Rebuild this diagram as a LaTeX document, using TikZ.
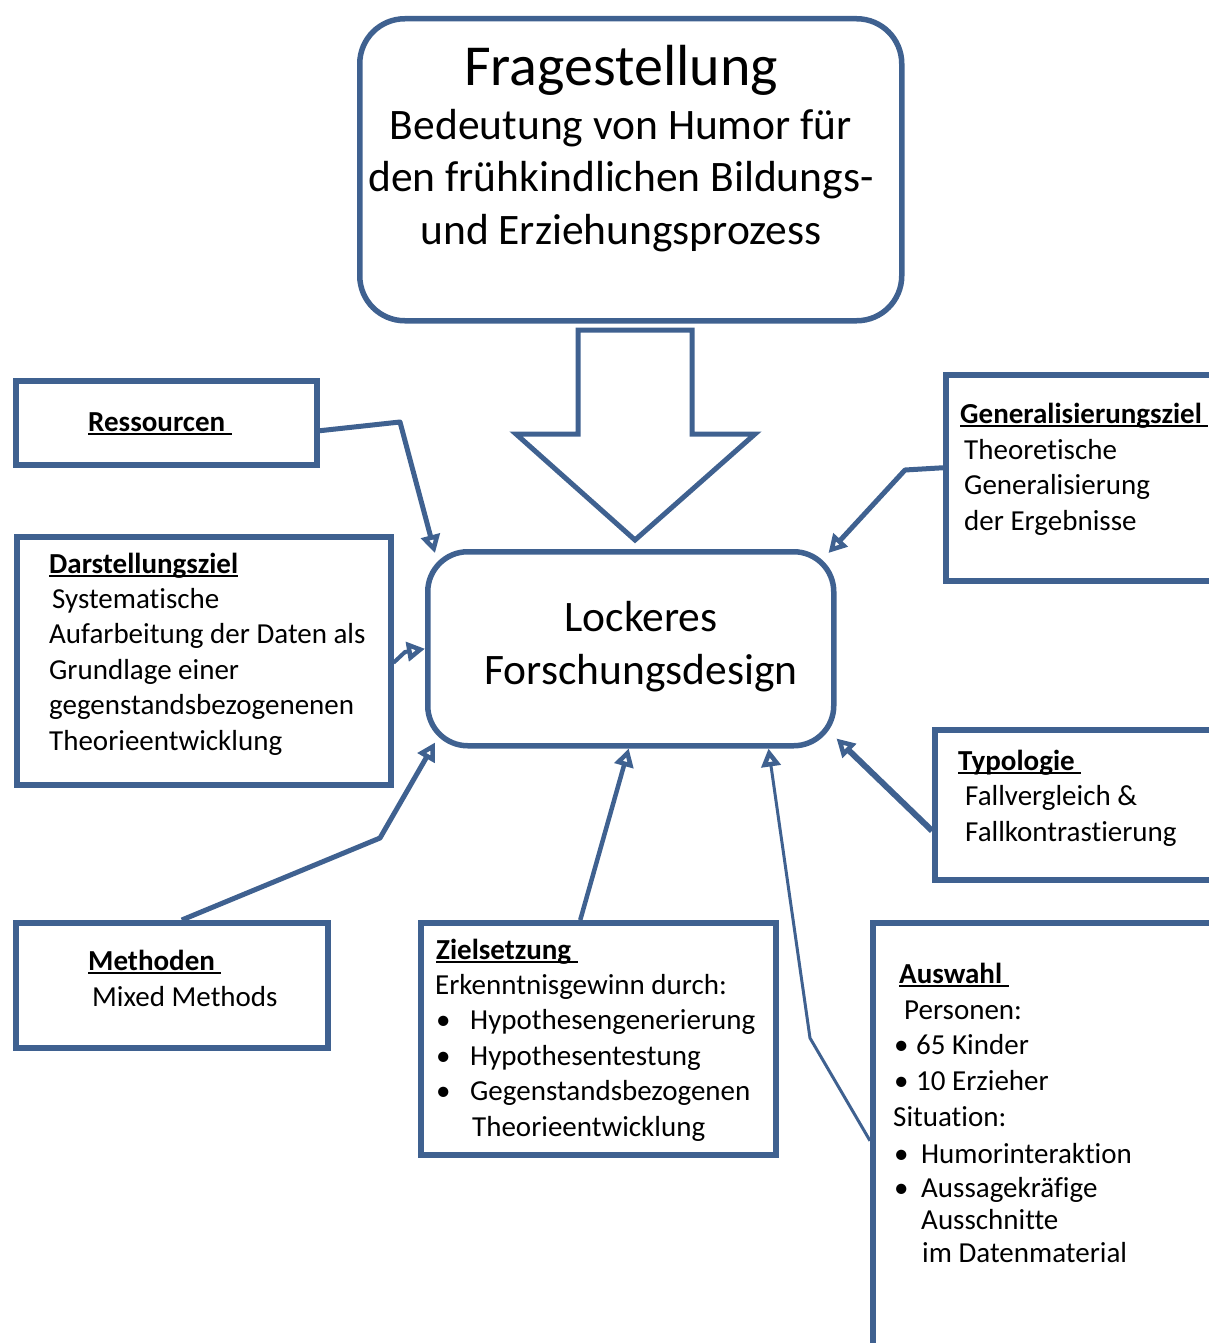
\documentclass[tikz,border=0pt]{standalone}
\usepackage{fontspec}
\setmainfont[RawFeature={-liga;-clig;-calt;-dlig}]{Carlito}
\usetikzlibrary{arrows.meta}
\definecolor{boxblue}{HTML}{3F6190}
\newcommand{\headline}[1]{\setbox0\hbox{\textbf{#1}}\rlap{\rule[-3.5pt]{\wd0}{2pt}}\box0}
\newcommand{\blt}[1]{\makebox[#1][l]{\hspace{1pt}\textbullet}}

\begin{document}
\begin{tikzpicture}[x=1pt, y=-1pt]
\tikzset{ >={Triangle[fill=white, length=18pt, width=19pt, line width=4.5pt]},
  box/.style={draw=boxblue, line width=5.5pt, anchor=north west, inner sep=0pt},
  rbox/.style={box, rounded corners=45pt},
  conn/.style={->, draw=boxblue, line width=5pt, line join=round},
  txt/.style={anchor=base west, inner sep=0pt, align=left, font=\fontsize{29}{35.4}\selectfont},
  big/.style={anchor=base, inner sep=0pt, align=center, font=\fontsize{43.5}{52.5}\selectfont},
}
\useasboundingbox (0,0) rectangle (1209,1343);
%\draw [lightgray, dashed](0,0) grid[step=100pt] (1209,1343);

% boxes
\node [rbox, minimum width=542pt, minimum height=302pt] (frage) at (357,16) {};
\node [rbox, rounded corners=40pt, minimum width=406pt, minimum height=194pt] (design) at (425,549) {};
\node [box, minimum width=301pt, minimum height=84pt]  (ress)  at (13,378)  {};
\node [box, minimum width=374pt, minimum height=248pt] (darst) at (14,534)  {};
\node [box, minimum width=300pt, minimum height=206pt] (gener) at (943,372) {};
\node [box, minimum width=310pt, minimum height=150pt] (typo)  at (932,727) {};
\node [box, minimum width=312pt, minimum height=125pt] (meth)  at (13,920)  {};
\node [box, minimum width=355pt, minimum height=232pt] (ziel)  at (418,920) {};
\node [box, minimum width=372pt, minimum height=460pt] (ausw)  at (870,920) {};

% big arrow
\draw [boxblue, line width=5pt] (578,330) -- (692,330) -- (692,434) -- (755,434)
  -- (635,540) -- (516,434) -- (578,434) -- cycle;

% texts (multi-line nodes sit on their last baseline)
\node [big, font=\fontsize{58}{70}\selectfont] (frageT) at (621,86) {Fragestellung};
\node [big] (frageS) at (621,244) {Bedeutung von Humor für\\den frühkindlichen Bildungs-\\und Erziehungsprozess};
\node [big] (designT) at (641,684) {Lockeres\\ Forschungsdesign};

\node [txt] (ressT)  at (88,431)  {\headline{Ressourcen\ }};
\node [txt] (darstT) at (49,750)  {\headline{Darstellungsziel}\\
  \hspace{3pt}Systematische\\Aufarbeitung der Daten als\\Grundlage einer\\gegenstandsbezogenenen\\Theorieentwicklung};
\node [txt] (generT) at (960,530) {\headline{Generalisierungsziel\ }\\
  \hspace{4pt}Theoretische\\\hspace{4pt}Generalisierung\\\hspace{4pt}der Ergebnisse};
\node [txt] (typoT)  at (958,841) {\headline{Typologie\ }\\
  \hspace{7pt}Fallvergleich \&\\\hspace{7pt}Fallkontrastierung};
\node [txt] (methT)  at (88,1006) {\headline{Methoden\ }\\\hspace{4pt}Mixed Methods};
\node [txt] (zielT)  at (435,1136) {\hspace{1pt}\headline{Zielsetzung\ }\\
  Erkenntnisgewinn durch:\\
  \blt{35pt}Hypothesengenerierung\\
  \blt{35pt}Hypothesentestung\\
  \blt{35pt}Gegenstandsbezogenen\\
  \hspace{37pt}Theorieentwicklung};
\node [txt] (auswT)  at (893,1262) {\hspace{6pt}\headline{Auswahl\ }\\
  \hspace{11pt}Personen:\\
  \blt{23pt}65 Kinder\\
  \blt{23pt}10 Erzieher\\[1.5pt]
  Situation:\\[1.5pt]
  \blt{28pt}Humorinteraktion\\[-2pt]
  \blt{28pt}Aussagekräfige\\[-3pt]
  \hspace{28pt}Ausschnitte\\[-3pt]
  \hspace{29pt}im Datenmaterial};

% connectors
\coordinate (rbend) at (400,422);
\coordinate (dbend) at (405,652);
\coordinate (mbend) at (380,838);
\coordinate (abend) at (810,1038);
\coordinate (gbend) at (905,470);

\draw [conn] ([yshift=-8pt]ress.east) -- (rbend) -- ([shift={(10pt,-4pt)}]design.north west);
\draw [conn, line width=4pt] ([yshift=-2pt]darst.east) -- (dbend) -- (design.west);
\draw [conn] ([xshift=10pt]meth.north) -- (mbend) -- ([shift={(10pt,6pt)}]design.south west);
\draw [conn, line width=4.5pt] ([xshift=-18pt]ziel.north) -- ([xshift=-2pt]design.south);
\draw [conn, line width=3pt] ([yshift=12pt]ausw.west) -- (abend) -- ([xshift=-68pt]design.south east);
\draw [conn] ([yshift=10pt]gener.west) -- (gbend) -- ([shift={(-8pt,-4pt)}]design.north east);
\draw [conn, line width=6pt] ([yshift=-26pt]typo.west) -- ([yshift=10pt]design.south east);

\end{tikzpicture}
\end{document}
